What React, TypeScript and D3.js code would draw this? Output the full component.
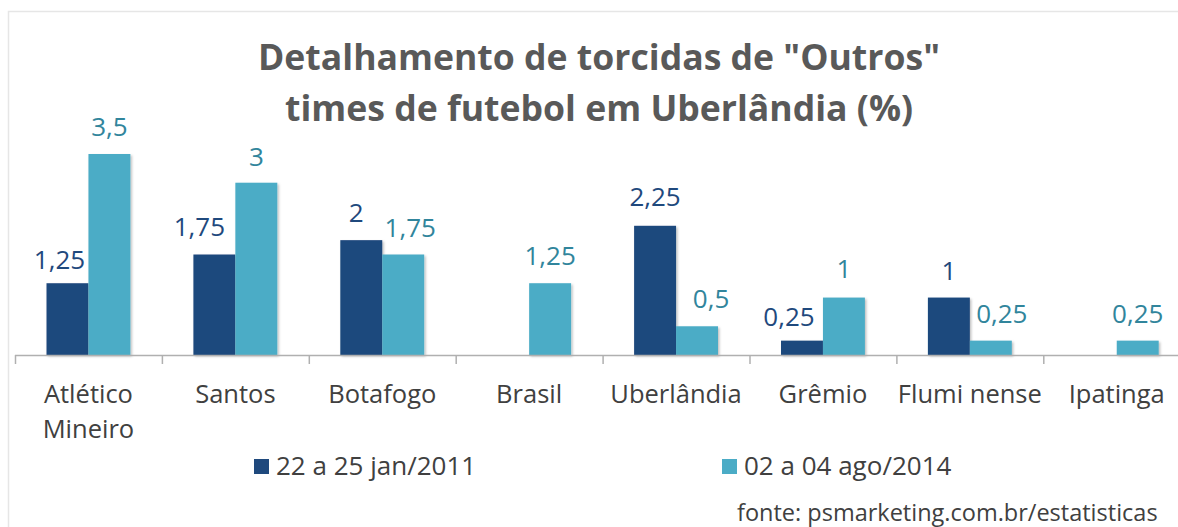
import React from "react";
import * as d3 from "d3";

const categories: string[][] = [
  ["Atlético", "Mineiro"],
  ["Santos"],
  ["Botafogo"],
  ["Brasil"],
  ["Uberlândia"],
  ["Grêmio"],
  ["Flumi nense"],
  ["Ipatinga"],
];
const seriesNames = ["22 a 25 jan/2011", "02 a 04 ago/2014"];
const series2011: (number | null)[] = [1.25, 1.75, 2, null, 2.25, 0.25, 1, null];
const series2014: (number | null)[] = [3.5, 3, 1.75, 1.25, 0.5, 1, 0.25, 0.25];
const titleLines = ['Detalhamento de torcidas de "Outros"', "times de futebol em Uberlândia (%)"];
const sourceText = "fonte: psmarketing.com.br/estatisticas";

const W = 1178;
const H = 527;
const FONT = "'Open Sans', sans-serif";
const barColors = ["#1f497d", "#4bacc6"];
const labelColors = ["#1f497d", "#31859c"];

// manual label nudges (layout only), [series][category] -> [dx, dy]
const labelNudge: [number, number][][] = [
  [[-8, 4], [-15, -1], [-5, 0], [0, 0], [0, -2], [-13, 3], [0, 0], [0, 0]],
  [[0, 0], [0, 1], [7, 0], [0, 0], [14, 0], [0, -2], [11, 0], [0, 0]],
];

export default function App() {
  const keys = categories.map((c) => c.join(" "));
  const step = 146.9;
  const x0 = d3.scaleBand<string>().domain(keys).range([15, 15 + step * keys.length]).padding(0);
  const x1 = d3.scaleBand<string>().domain(["a", "b"]).range([31.5, step - 31.5]).padding(0);
  const baseline = 355;
  const y = d3.scaleLinear().domain([0, 3.5]).range([baseline, 154]);
  const allSeries = [series2011, series2014];
  const fmt = (v: number) => String(v).replace(".", ",");

  return (
    <svg
      width={W}
      height={H}
      style={{ position: "absolute", left: 0, top: 0, background: "#fff" }}
      fontFamily={FONT}
    >
      <defs>
        <filter id="sh" x="-20%" y="-20%" width="150%" height="150%">
          <feDropShadow dx="1.5" dy="1.5" stdDeviation="1.2" floodColor="#000" floodOpacity="0.25" />
        </filter>
      </defs>
      <rect x={0} y={0} width={W} height={H} fill="#fff" />
      <rect x={8.5} y={11.5} width={W + 20} height={H + 20} fill="none" stroke="#e6e6e6" strokeWidth={1.5} />

      {titleLines.map((t, i) => (
        <text
          key={i}
          x={599}
          y={70 + i * 51}
          textAnchor="middle"
          fontSize={35.6}
          fontWeight="bold"
          fill="#595959"
        >
          {t}
        </text>
      ))}

      {/* bars */}
      {keys.map((k, ci) =>
        allSeries.map((s, si) => {
          const v = s[ci];
          if (v === null || v === undefined) return null;
          const bx = (x0(k) as number) + (x1(si === 0 ? "a" : "b") as number);
          const bw = x1.bandwidth();
          return (
            <rect
              key={k + si}
              x={bx}
              y={y(v)}
              width={bw}
              height={baseline - y(v)}
              fill={barColors[si]}
              filter="url(#sh)"
            />
          );
        })
      )}

      {/* axis */}
      <line x1={15} x2={W} y1={baseline + 0.5} y2={baseline + 0.5} stroke="#b0b0b0" strokeWidth={1.5} />
      {keys.map((k, ci) => (
        <line
          key={"t" + ci}
          x1={(x0(k) as number) + 0.5}
          x2={(x0(k) as number) + 0.5}
          y1={baseline}
          y2={baseline + 9}
          stroke="#b0b0b0"
          strokeWidth={1.5}
        />
      ))}

      {/* value labels */}
      {keys.map((k, ci) =>
        allSeries.map((s, si) => {
          const v = s[ci];
          if (v === null || v === undefined) return null;
          const bx = (x0(k) as number) + (x1(si === 0 ? "a" : "b") as number);
          const bw = x1.bandwidth();
          const [dx, dy] = labelNudge[si][ci];
          return (
            <text
              key={"l" + k + si}
              x={bx + bw / 2 + dx}
              y={y(v) - 18 + dy}
              textAnchor="middle"
              fontSize={26}
              fill={labelColors[si]}
            >
              {fmt(v)}
            </text>
          );
        })
      )}

      {/* category labels */}
      {categories.map((lines, ci) => {
        const cx = (x0(keys[ci]) as number) + x0.bandwidth() / 2;
        return (
          <text key={"c" + ci} x={cx} y={403} textAnchor="middle" fontSize={25.5} fill="#404040">
            {lines.map((ln, li) => (
              <tspan key={li} x={cx} dy={li === 0 ? 0 : 35}>
                {ln}
              </tspan>
            ))}
          </text>
        );
      })}

      {/* legend */}
      {seriesNames.map((n, i) => {
        const lx = i === 0 ? 254 : 722;
        return (
          <g key={"lg" + i}>
            <rect x={lx} y={459} width={15} height={15} fill={barColors[i]} />
            <text x={lx + 22} y={475} fontSize={26} fill="#404040">
              {n}
            </text>
          </g>
        );
      })}

      <text x={737} y={521} fontSize={23.5} fill="#404040">
        {sourceText}
      </text>
    </svg>
  );
}
